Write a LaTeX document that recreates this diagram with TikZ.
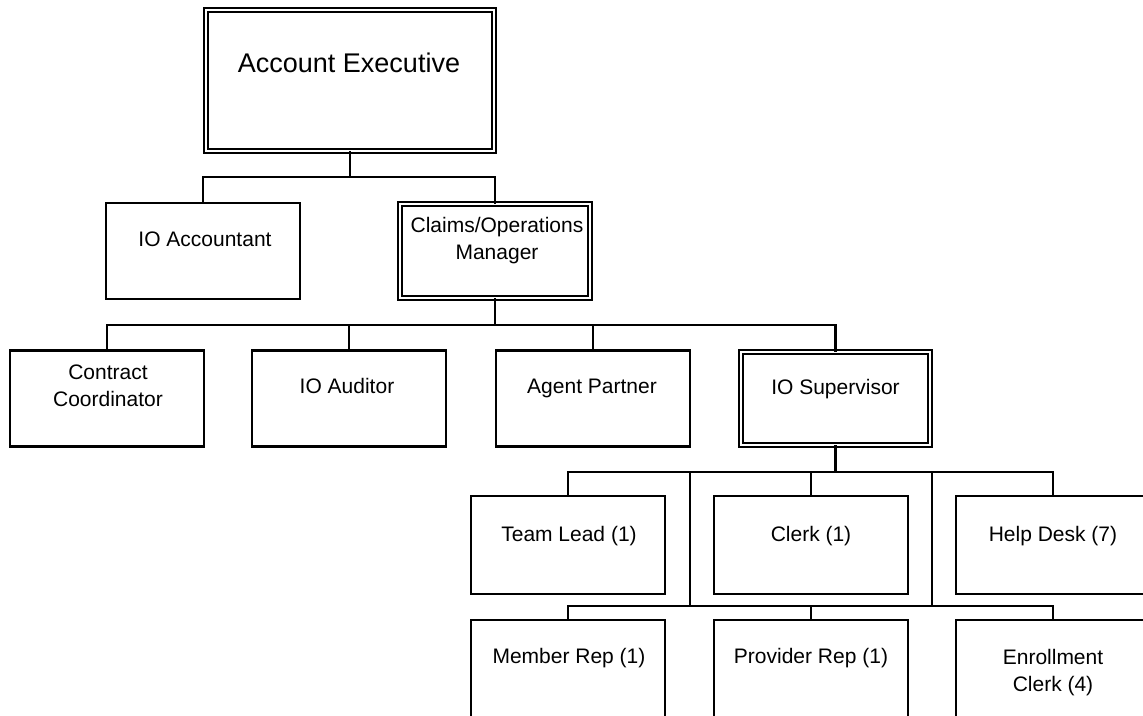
\documentclass[tikz,border=0pt]{standalone}
\usepackage{fontspec}
\setmainfont{Liberation Sans}
\usetikzlibrary{calc}

\begin{document}
\begin{tikzpicture}[x=1pt,y=-1pt,
  box/.style={draw, line width=2.1pt, minimum width=194pt, minimum height=96pt, inner sep=0pt, outer sep=0pt},
  lowbox/.style={box, minimum height=98pt},
  dbox/.style={draw, line width=1.8pt, double, double distance=2.5pt, inner sep=0pt, outer sep=0pt},
  wire/.style={line width=2.1pt},
  lbl/.style={font=\fontsize{21}{27}\selectfont, align=center, inner sep=0pt, anchor=base},
  biglbl/.style={lbl, font=\fontsize{27}{32}\selectfont},
]
\useasboundingbox (0,0) rectangle (1143,715);
\clip (0,0) rectangle (1143,715);
\fill[white] (0,0) rectangle (1143,715);

% --- boxes ---------------------------------------------------------------
\node[dbox, minimum width=288pt, minimum height=141pt] (ae) at (350,80.5) {};
\node[box] (acc) at (203,251) {};
\node[dbox, minimum width=190pt, minimum height=94pt] (clm) at (495,251) {};

\node[box] (cc)  at (107,398.5) {};
\node[box] (aud) at (349,398.5) {};
\node[box] (agp) at (593,398.5) {};
\node[dbox, minimum width=189pt, minimum height=93pt] (ios) at (835.5,398.5) {};

\node[lowbox] (tl) at (568,545) {};
\node[lowbox] (clk) at (811,545) {};
\node[lowbox] (hd) at (1053,545) {};

\node[lowbox] (mr) at (568,669) {};
\node[lowbox] (pr) at (811,669) {};
\node[lowbox] (ec) at (1053,669) {};

% --- labels (base anchor = baseline of the last line) ---------------------
\node[biglbl] (tae) at ($(ae.north)+(-1,62)$) {Account Executive};
\node[lbl] (tacc) at ($(acc.north)+(2,43)$) {IO Accountant};
\node[lbl] (tclm) at ($(clm.north)+(2,55.5)$) {Claims/Operations\\Manager};
\node[lbl] (tcc) at ($(cc.north)+(1,55.5)$) {Contract\\Coordinator};
\node[lbl] (taud) at ($(aud.north)+(-2,42.5)$) {IO Auditor};
\node[lbl] (tagp) at ($(agp.north)+(-1,42.5)$) {Agent Partner};
\node[lbl] (tios) at ($(ios.north)+(0,42.5)$) {IO Supervisor};
\node[lbl] (ttl) at ($(tl.north)+(1,45.5)$) {Team Lead (1)};
\node[lbl] (tclk) at ($(clk.north)+(0,45.5)$) {Clerk (1)};
\node[lbl] (thd) at ($(hd.north)+(0,45.5)$) {Help Desk (7)};
\node[lbl] (tmr) at ($(mr.north)+(1,43)$) {Member Rep (1)};
\node[lbl] (tpr) at ($(pr.north)+(0,43)$) {Provider Rep (1)};
\node[lbl] (tec) at ($(ec.north)+(0,71)$) {Enrollment\\Clerk (4)};

% --- connectors ----------------------------------------------------------
\coordinate (j1) at (0,177);
\draw[wire] (ae.south) -- (ae.south |- j1);
\draw[wire] (acc.north) -- (acc.north |- j1) -- (clm.north |- j1) -- (clm.north);

\coordinate (j2) at (0,325);
\draw[wire] (clm.south) -- (clm.south |- j2);
\draw[wire] (cc.north) -- (cc.north |- j2) -- (ios.north |- j2) -- (ios.north);
\draw[wire] (aud.north) -- (aud.north |- j2);
\draw[wire] (agp.north) -- (agp.north |- j2);

\coordinate (j3) at (0,472);
\coordinate (j4) at (0,606);
\draw[wire] (ios.south) -- (ios.south |- j3);
\draw[wire] (tl.north) -- (tl.north |- j3) -- (hd.north |- j3) -- (hd.north);
\draw[wire] (clk.north) -- (clk.north |- j3);

\coordinate (sl) at (690,472);
\coordinate (sr) at (932,472);
\draw[wire] (sl) -- (sl |- j4);
\draw[wire] (sr) -- (sr |- j4);

\draw[wire] (mr.north) -- (mr.north |- j4) -- (ec.north |- j4) -- (ec.north);
\draw[wire] (pr.north) -- (pr.north |- j4);
\end{tikzpicture}
\end{document}
